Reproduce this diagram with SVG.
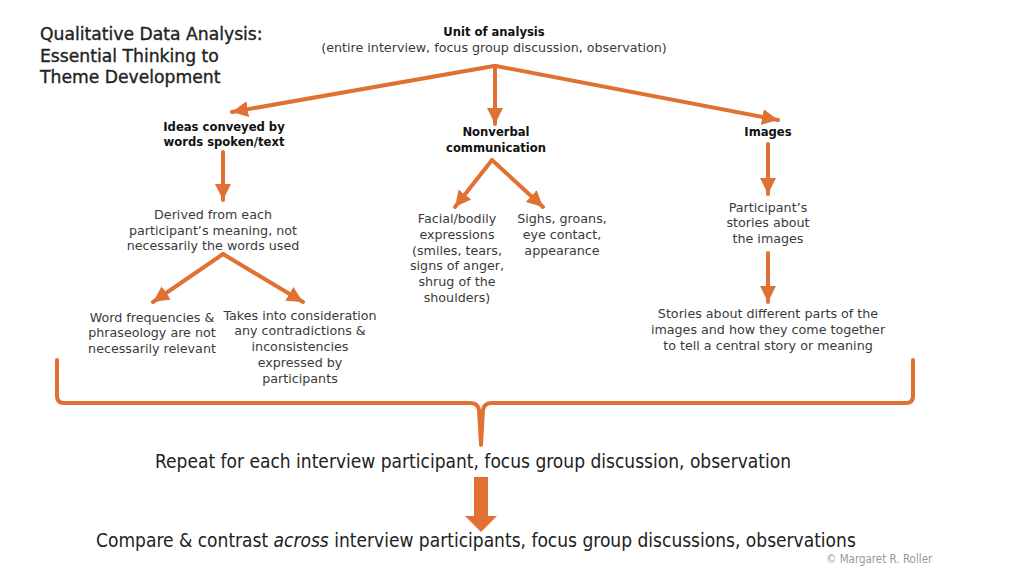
<svg xmlns="http://www.w3.org/2000/svg" width="1024" height="576" viewBox="0 0 1024 576">
<defs>
<style>
.t{font-family:"DejaVu Sans",Verdana,sans-serif;font-size:12.7px;fill:#3a3a3a;text-anchor:middle}
.b{font-family:"DejaVu Sans Condensed","DejaVu Sans",sans-serif;font-weight:bold;font-size:12.9px;fill:#111;text-anchor:middle}
.title{font-family:"DejaVu Sans",Verdana,sans-serif;font-size:17.2px;fill:#222;stroke:#222;stroke-width:0.35}
.big{font-family:"Liberation Sans Narrow","DejaVu Sans Condensed",sans-serif;font-size:19px;fill:#222}
.ln{fill:none;stroke:#E07132;stroke-width:4;stroke-linecap:round;stroke-linejoin:round}
</style>
<marker id="ah" markerUnits="userSpaceOnUse" markerWidth="18" markerHeight="18" viewBox="0 0 18 18" refX="16" refY="9" orient="auto">
<path d="M0,1 L16,9 L0,17 Z" fill="#E07132"/>
</marker>
</defs>
<rect width="1024" height="576" fill="#fff"/>
<g id="title">
<text class="title" x="40" y="40">Qualitative Data Analysis:</text>
<text class="title" x="40" y="62">Essential Thinking to</text>
<text class="title" x="40" y="83">Theme Development</text>
</g>
<g id="connectors">
<path class="ln" d="M494,66 L232,112" marker-end="url(#ah)"/>
<path class="ln" d="M495,66 L495,124" marker-end="url(#ah)"/>
<path class="ln" d="M496,66 L778,120" marker-end="url(#ah)"/>
<path class="ln" d="M223,152 L223,200" marker-end="url(#ah)"/>
<path class="ln" d="M223,254 L153,302" marker-end="url(#ah)"/>
<path class="ln" d="M223,254 L303,302" marker-end="url(#ah)"/>
<path class="ln" d="M492,160 L455,207" marker-end="url(#ah)"/>
<path class="ln" d="M492,160 L543,207" marker-end="url(#ah)"/>
<path class="ln" d="M768,144 L768,194" marker-end="url(#ah)"/>
<path class="ln" d="M768,253 L768,302" marker-end="url(#ah)"/>
<path class="ln" d="M57,360 L57,396 Q57,403 64,403 L470,403 Q478,403 479,410 L481,445 L483,410 Q484,403 492,403 L906,403 Q913,403 913,396 L913,360"/>
<path d="M474,477 L488,477 L488,516 L497,516 L481,532 L465,516 L474,516 Z" fill="#E07132"/>
</g>
<g id="unit">
<text class="b" x="494" y="36">Unit of analysis</text>
<text class="t" x="494" y="52">(entire interview, focus group discussion, observation)</text>
</g>
<g id="ideas">
<text class="b" x="224" y="131">Ideas conveyed by</text>
<text class="b" x="224" y="146">words spoken/text</text>
</g>
<g id="derived">
<text class="t" x="213" y="219">Derived from each</text>
<text class="t" x="213" y="235">participant’s meaning, not</text>
<text class="t" x="213" y="250">necessarily the words used</text>
</g>
<g id="wordfreq">
<text class="t" x="152" y="322">Word frequencies &amp;</text>
<text class="t" x="152" y="337">phraseology are not</text>
<text class="t" x="152" y="353">necessarily relevant</text>
</g>
<g id="contradictions">
<text class="t" x="300" y="320">Takes into consideration</text>
<text class="t" x="300" y="335">any contradictions &amp;</text>
<text class="t" x="300" y="351">inconsistencies</text>
<text class="t" x="300" y="367">expressed by</text>
<text class="t" x="300" y="383">participants</text>
</g>
<g id="nonverbal">
<text class="b" x="496" y="136">Nonverbal</text>
<text class="b" x="496" y="152">communication</text>
</g>
<g id="facial">
<text class="t" x="457" y="223">Facial/bodily</text>
<text class="t" x="457" y="239">expressions</text>
<text class="t" x="457" y="255">(smiles, tears,</text>
<text class="t" x="457" y="270">signs of anger,</text>
<text class="t" x="457" y="286">shrug of the</text>
<text class="t" x="457" y="302">shoulders)</text>
</g>
<g id="sighs">
<text class="t" x="562" y="223">Sighs, groans,</text>
<text class="t" x="562" y="239">eye contact,</text>
<text class="t" x="562" y="255">appearance</text>
</g>
<g id="images">
<text class="b" x="768" y="136">Images</text>
</g>
<g id="stories1">
<text class="t" x="768" y="212">Participant’s</text>
<text class="t" x="768" y="227">stories about</text>
<text class="t" x="768" y="243">the images</text>
</g>
<g id="stories2">
<text class="t" x="768" y="318">Stories about different parts of the</text>
<text class="t" x="768" y="334">images and how they come together</text>
<text class="t" x="768" y="350">to tell a central story or meaning</text>
</g>
<g id="repeat">
<text class="big" x="155" y="468">Repeat for each interview participant, focus group discussion, observation</text>
</g>
<g id="compare">
<text class="big" x="96" y="547">Compare &amp; contrast <tspan font-style="italic">across</tspan> interview participants, focus group discussions, observations</text>
</g>
<text x="826" y="563" style="font-family:'Liberation Sans Narrow','DejaVu Sans Condensed',sans-serif;font-size:11.5px;fill:#999">© Margaret R. Roller</text>
</svg>
